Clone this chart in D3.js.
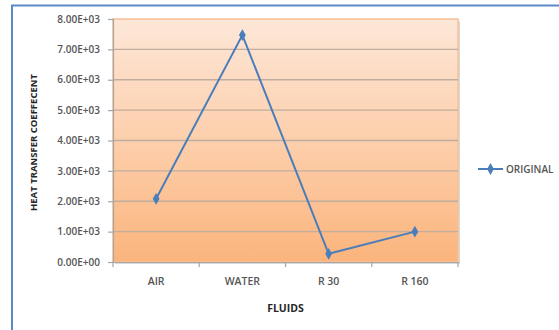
<!DOCTYPE html>
<html>
<head>
<meta charset="utf-8">
<script src="https://cdn.jsdelivr.net/npm/d3@7"></script>
<style>
  html, body { margin: 0; padding: 0; background: #fff; }
  svg { display: block; }
  text { font-family: "Open Sans", "DejaVu Sans", sans-serif; }
</style>
</head>
<body>
<script>
// Heat transfer coefficient per fluid
const fluids = ["AIR", "WATER", "R 30", "R 160"];
const original = [2080, 7470, 270, 1000];
const yTicks = [0, 1000, 2000, 3000, 4000, 5000, 6000, 7000, 8000];
const seriesName = "ORIGINAL";

const W = 559, H = 330;
const plot = { left: 113, top: 19, right: 458, bottom: 262 };
const blue = "#4a7ebb";
const labelColor = "#555555";

const svg = d3.select("body").append("svg")
  .attr("width", W).attr("height", H);

const defs = svg.append("defs");
const grad = defs.append("linearGradient")
  .attr("id", "bg").attr("x1", 0).attr("y1", 0).attr("x2", 0).attr("y2", 1);
grad.append("stop").attr("offset", "0%").attr("stop-color", "#fde7d8");
grad.append("stop").attr("offset", "50%").attr("stop-color", "#fdcfac");
grad.append("stop").attr("offset", "100%").attr("stop-color", "#fbb47c");

// chart frame
svg.append("path")
  .attr("d", `M12,${H + 5} L12,5.5 L${W + 5},5.5`)
  .attr("fill", "none").attr("stroke", "#5b8ac6").attr("stroke-width", 2);

const x = d3.scaleBand().domain(fluids).range([plot.left, plot.right]);
const y = d3.scaleLinear().domain([0, 8000]).range([plot.bottom, plot.top]);

// plot area shadow + fill
svg.append("rect")
  .attr("x", plot.left + 2).attr("y", plot.top + 2)
  .attr("width", plot.right - plot.left).attr("height", plot.bottom - plot.top)
  .attr("fill", "#d9d9d9");
svg.append("rect")
  .attr("x", plot.left).attr("y", plot.top)
  .attr("width", plot.right - plot.left).attr("height", plot.bottom - plot.top)
  .attr("fill", "url(#bg)")
  .attr("stroke", "#f8c094").attr("stroke-width", 1.5);

// horizontal gridlines
svg.append("g").selectAll("line")
  .data(yTicks.filter(d => d > 0 && d < 8000))
  .join("line")
  .attr("x1", plot.left).attr("x2", plot.right)
  .attr("y1", d => y(d)).attr("y2", d => y(d))
  .attr("stroke", "#bfae9f").attr("stroke-width", 1.3);

// y axis, scientific labels like 7.00E+03
const sci = d => {
  const [m, e] = d3.format(".2e")(d).split("e");
  const sign = e[0] === "-" ? "-" : "+";
  return m + "E" + sign + String(Math.abs(+e)).padStart(2, "0");
};
const yAxis = svg.append("g")
  .attr("transform", `translate(${plot.left},0)`)
  .call(d3.axisLeft(y).tickValues(yTicks).tickSize(5).tickPadding(8).tickFormat(sci));
yAxis.select(".domain").attr("stroke", "#a6a6a6").attr("stroke-width", 1.2);
yAxis.selectAll(".tick line").attr("stroke", "#a6a6a6").attr("stroke-width", 1.2);
yAxis.selectAll(".tick text")
  .attr("fill", labelColor).attr("font-size", 10).attr("font-weight", 600);

// x axis
const xAxis = svg.append("g")
  .attr("transform", `translate(0,${plot.bottom})`)
  .call(d3.axisBottom(x).tickSize(0).tickPadding(16));
xAxis.select(".domain").attr("stroke", "#a6a6a6").attr("stroke-width", 1.2);
xAxis.selectAll(".tick text")
  .attr("fill", labelColor).attr("font-size", 10.5).attr("font-weight", 600);
// category separators
svg.append("g").selectAll("line")
  .data([plot.left].concat(fluids.map(f => x(f) + x.bandwidth())))
  .join("line")
  .attr("x1", d => d).attr("x2", d => d)
  .attr("y1", plot.bottom).attr("y2", plot.bottom + 5)
  .attr("stroke", "#a6a6a6").attr("stroke-width", 1.2);

// axis titles
svg.append("text")
  .attr("transform", `translate(37,${(plot.top + plot.bottom) / 2 + 2}) rotate(-90)`)
  .attr("text-anchor", "middle")
  .attr("font-size", 9.5).attr("font-weight", 700).attr("fill", "#262626")
  .text("HEAT TRANSFER COEFFECENT");
svg.append("text")
  .attr("x", (plot.left + plot.right) / 2).attr("y", 312)
  .attr("text-anchor", "middle")
  .attr("font-size", 10.5).attr("font-weight", 700).attr("fill", "#262626")
  .text("FLUIDS");

// series line + diamond markers
const cx = d => x(d) + x.bandwidth() / 2;
const line = d3.line().x((d, i) => cx(fluids[i])).y(d => y(d));
svg.append("path")
  .datum(original)
  .attr("d", line)
  .attr("fill", "none").attr("stroke", blue).attr("stroke-width", 2);

const diamond = d3.symbol().type(d3.symbolDiamond).size(40);
svg.append("g").selectAll("path")
  .data(original)
  .join("path")
  .attr("transform", (d, i) => `translate(${cx(fluids[i])},${y(d)})`)
  .attr("d", diamond)
  .attr("fill", blue);

// legend
const lg = svg.append("g").attr("transform", "translate(478,169)");
lg.append("line").attr("x1", 0).attr("x2", 25).attr("y1", 0).attr("y2", 0)
  .attr("stroke", blue).attr("stroke-width", 2);
lg.append("path").attr("transform", "translate(12.5,0)").attr("d", diamond).attr("fill", blue);
lg.append("text").attr("x", 28).attr("y", 3.6)
  .attr("font-size", 10).attr("font-weight", 600).attr("fill", labelColor)
  .text(seriesName);
</script>
</body>
</html>
